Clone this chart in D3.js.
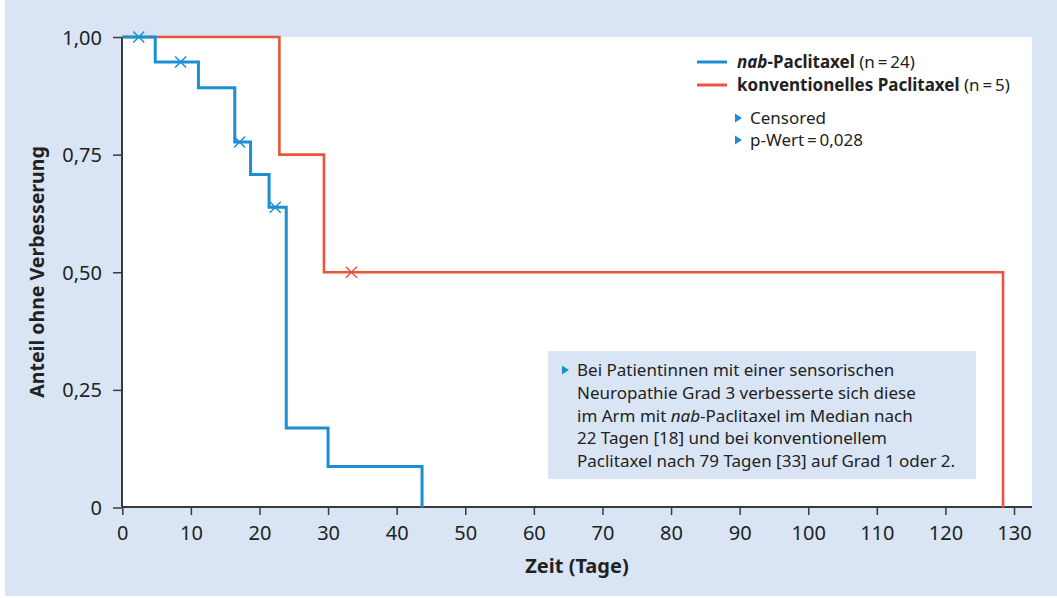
<!DOCTYPE html>
<html>
<head>
<meta charset="utf-8">
<script src="https://cdn.jsdelivr.net/npm/d3@7"></script>
<style>
  body { margin: 0; background: #fff; }
  svg { display: block; font-family: "Noto Sans", sans-serif; }
</style>
</head>
<body>
<div id="chart"></div>
<script>
// values
var nabEventTimes = [4.8, 11.1, 16.4, 18.7, 21.4, 23.9, 30.0, 43.7];
var nabSurvival   = [0.947, 0.892, 0.777, 0.708, 0.638, 0.169, 0.087, 0];
var nabCensored   = [2.4, 8.5, 17.1, 22.3];

var konvEventTimes = [22.9, 29.4, 128.4];
var konvSurvival   = [0.75, 0.5, 0];
var konvCensored   = [33.4];

var xTicks = [0, 10, 20, 30, 40, 50, 60, 70, 80, 90, 100, 110, 120, 130];
var yTicks = [0, 0.25, 0.5, 0.75, 1];
var yTickLabels = ["0", "0,25", "0,50", "0,75", "1,00"];

var noteLines = [
  "Bei Patientinnen mit einer sensorischen",
  "Neuropathie Grad 3 verbesserte sich diese",
  ["im Arm mit ", "nab", "-Paclitaxel im Median nach"],
  "22 Tagen [18] und bei konventionellem",
  "Paclitaxel nach 79 Tagen [33] auf Grad 1 oder 2."
];

var W = 1057, H = 598;
var blue = "#1a8fd4", red = "#e8553a", bg = "#d9e5f4", axisCol = "#3a3a3a";

var plot = {left: 122, right: 1032, top: 37, bottom: 507};

var xscale = d3.scaleLinear().domain([0, 130]).range([122.3, 1014]);
var yscale = d3.scaleLinear().domain([0, 1]).range([507.5, 37]);

var svg = d3.select("#chart").append("svg")
  .attr("width", W)
  .attr("height", H);

svg.append("rect")
  .attr("x", 5).attr("y", 0)
  .attr("width", W - 5).attr("height", 596)
  .style("fill", bg);

svg.append("rect")
  .attr("x", plot.left).attr("y", plot.top)
  .attr("width", plot.right - plot.left)
  .attr("height", plot.bottom - plot.top)
  .style("fill", "#fff");

// axes
var xAxis = d3.axisBottom(xscale).tickValues(xTicks).tickSize(8).tickSizeOuter(0);
var yAxis = d3.axisLeft(yscale).tickValues(yTicks).tickSize(9).tickSizeOuter(0)
  .tickFormat(function(d, i){ return yTickLabels[i]; });

var gx = svg.append("g")
  .attr("transform", "translate(0," + plot.bottom + ")")
  .call(xAxis)
  .attr("font-family", null).attr("font-size", null);
gx.select(".domain").remove();
gx.selectAll("line").style("stroke", axisCol).style("stroke-width", 1.5);
gx.selectAll("text")
  .attr("y", 32.5).attr("dy", null)
  .style("font-size", "20px").style("fill", "#222");

var gy = svg.append("g")
  .attr("transform", "translate(" + plot.left + ",0)")
  .call(yAxis)
  .attr("font-family", null).attr("font-size", null);
gy.select(".domain").remove();
gy.selectAll("line").style("stroke", axisCol).style("stroke-width", 1.5);
gy.selectAll("text")
  .attr("x", -20).attr("dy", "0.35em")
  .style("font-size", "20px").style("fill", "#222");

svg.append("line")
  .attr("x1", plot.left).attr("x2", plot.right)
  .attr("y1", plot.bottom).attr("y2", plot.bottom)
  .style("stroke", axisCol).style("stroke-width", 2);
svg.append("line")
  .attr("x1", plot.left).attr("x2", plot.left)
  .attr("y1", plot.top).attr("y2", plot.bottom)
  .style("stroke", axisCol).style("stroke-width", 2);

svg.append("text")
  .attr("x", 577).attr("y", 573)
  .style("text-anchor", "middle")
  .style("font-weight", "bold")
  .style("font-size", "20px")
  .style("fill", "#222")
  .text("Zeit (Tage)");

svg.append("text")
  .attr("transform", "translate(44,272) rotate(-90)")
  .style("text-anchor", "middle")
  .style("font-weight", "bold")
  .style("font-size", "19.5px")
  .style("fill", "#222")
  .text("Anteil ohne Verbesserung");

// survival curves
function steps(times, surv){
  var pts = [[0, 1]];
  times.forEach(function(t, i){ pts.push([t, surv[i]]); });
  return pts;
}
function survAt(t, times, surv){
  var s = 1;
  for (var i = 0; i < times.length; i++){ if (times[i] <= t) s = surv[i]; }
  return s;
}

var line = d3.line()
  .x(function(d){ return xscale(d[0]); })
  .y(function(d){ return yscale(d[1]); })
  .curve(d3.curveStepAfter);

var groups = [
  {times: konvEventTimes, surv: konvSurvival, cens: konvCensored, color: red, w: 2.6},
  {times: nabEventTimes, surv: nabSurvival, cens: nabCensored, color: blue, w: 3}
];

groups.forEach(function(g){
  svg.append("path")
    .attr("d", line(steps(g.times, g.surv)))
    .style("fill", "none")
    .style("stroke", g.color)
    .style("stroke-width", g.w)
    .style("stroke-linejoin", "miter");

  g.cens.forEach(function(t){
    var cx = xscale(t), cy = yscale(survAt(t, g.times, g.surv)), r = 5.5;
    svg.append("path")
      .attr("d", "M" + (cx - r) + "," + (cy - r) + "L" + (cx + r) + "," + (cy + r) +
                 "M" + (cx - r) + "," + (cy + r) + "L" + (cx + r) + "," + (cy - r))
      .style("stroke", g.color)
      .style("stroke-width", 1.5)
      .style("fill", "none");
  });
});

// legend
var legend = svg.append("g").style("font-size", "17px").style("fill", "#222");

legend.append("line").attr("x1", 697).attr("x2", 727).attr("y1", 62).attr("y2", 62)
  .style("stroke", blue).style("stroke-width", 3);
legend.append("line").attr("x1", 697).attr("x2", 727).attr("y1", 85).attr("y2", 85)
  .style("stroke", red).style("stroke-width", 3);

var l1 = legend.append("text").attr("x", 737).attr("y", 68);
l1.append("tspan").style("font-weight", "bold").style("font-style", "italic").text("nab");
l1.append("tspan").style("font-weight", "bold").text("-Paclitaxel");
l1.append("tspan").text(" (n\u2009=\u200924)");

var l2 = legend.append("text").attr("x", 737).attr("y", 91);
l2.append("tspan").style("font-weight", "bold").text("konventionelles Paclitaxel");
l2.append("tspan").text(" (n\u2009=\u20095)");

function tri(x, y){
  return "M" + x + "," + (y - 4.5) + "L" + (x + 7) + "," + y + "L" + x + "," + (y + 4.5) + "Z";
}

[["Censored", 124], ["p-Wert\u2009=\u20090,028", 146]].forEach(function(d){
  legend.append("path").attr("d", tri(735, d[1] - 6)).style("fill", blue);
  legend.append("text").attr("x", 750).attr("y", d[1]).text(d[0]);
});

// note box
svg.append("rect")
  .attr("x", 548).attr("y", 351)
  .attr("width", 428).attr("height", 128)
  .style("fill", bg);

svg.append("path").attr("d", tri(562, 370)).style("fill", blue);

var note = svg.append("g").style("font-size", "17px").style("fill", "#222");
noteLines.forEach(function(l, i){
  var t = note.append("text").attr("x", 577).attr("y", 376 + i * 22.75);
  if (typeof l === "string") { t.text(l); return; }
  t.append("tspan").text(l[0]);
  t.append("tspan").style("font-style", "italic").text(l[1]);
  t.append("tspan").text(l[2]);
});
</script>
</body>
</html>
